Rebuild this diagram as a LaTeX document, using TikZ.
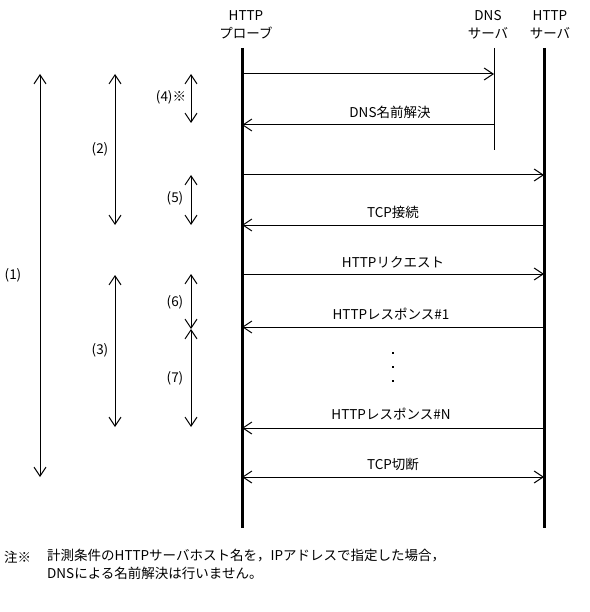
\documentclass[tikz,border=0pt]{standalone}
\usepackage{fontspec}
\setmainfont{Noto Sans CJK JP}
\usetikzlibrary{arrows.meta}

\begin{document}
\begin{tikzpicture}[x=1pt,y=-1pt,font=\fontsize{13.5}{18}\selectfont,
  life/.style={line width=3pt},
  thinlife/.style={line width=1pt},
  msg/.style={-{Straight Barb[length=9pt,width=12pt]},line width=1pt},
  span/.style={{Straight Barb[length=9pt,width=12pt]}-{Straight Barb[length=9pt,width=12pt]},line width=1pt},
  lbl/.style={inner sep=0pt,align=center}]
  \useasboundingbox (0,0) rectangle (589,612);
  % lifelines
  \node[lbl] (probe) at (246,25) {HTTP\\プローブ};
  \node[lbl] (dns) at (488,25) {DNS\\サーバ};
  \node[lbl] (http) at (550,25) {HTTP\\サーバ};
  \coordinate (pT) at (242,48); \coordinate (pB) at (242,528);
  \coordinate (dT) at (494,48); \coordinate (dB) at (494,150);
  \coordinate (sT) at (544,48); \coordinate (sB) at (544,528);
  \draw[life] (pT) -- (pB);
  \draw[thinlife] (dT) -- (dB);
  \draw[life] (sT) -- (sB);
  % message ends
  \foreach \n/\y in {1/74,2/125,3/175,4/225,5/274,6/327,7/428,8/477} {
    \coordinate (p\n) at (242,\y);
    \coordinate (s\n) at (544,\y);
  }
  \coordinate (d1) at (494,74); \coordinate (d2) at (494,125);
  \draw[msg] (p1) -- (d1);
  \draw[msg] (d2) -- (p2);
  \draw[msg] (p3) -- (s3);
  \draw[msg] (s4) -- (p4);
  \draw[msg] (p5) -- (s5);
  \draw[msg] (s6) -- (p6);
  \draw[msg] (s7) -- (p7);
  \draw[span] (p8) -- (s8);
  \node[lbl] (m2) at (390,112) {DNS名前解決};
  \node[lbl] (m4) at (393,212) {TCP接続};
  \node[lbl] (m5) at (393,262) {HTTPリクエスト};
  \node[lbl] (m6) at (391,314) {HTTPレスポンス\#1};
  \node[lbl] (m7) at (391,414) {HTTPレスポンス\#N};
  \node[lbl] (m8) at (393,464) {TCP切断};
  \foreach \y in {352,366,380} \fill (392,\y) rectangle +(2,2);
  % spans
  \coordinate (a1t) at (40,74);  \coordinate (a1b) at (40,477);
  \coordinate (a2t) at (115,74); \coordinate (a2b) at (115,225);
  \coordinate (a3t) at (115,275); \coordinate (a3b) at (115,427);
  \coordinate (a4t) at (191,74); \coordinate (a4b) at (191,123);
  \coordinate (a5t) at (191,175); \coordinate (a5b) at (191,225);
  \coordinate (a6t) at (191,274); \coordinate (a6b) at (191,329);
  \coordinate (a7t) at (191,329); \coordinate (a7b) at (191,427);
  \foreach \i in {1,...,7} \draw[span] (a\i t) -- (a\i b);
  \node[lbl] (n1) at (13,275) {(1)};
  \node[lbl] (n2) at (100,149) {(2)};
  \node[lbl] (n3) at (100,350) {(3)};
  \node[lbl] (n4) at (171,97) {(4)※};
  \node[lbl] (n5) at (175,198) {(5)};
  \node[lbl] (n6) at (175,302) {(6)};
  \node[lbl] (n7) at (175,378) {(7)};
  % note
  \node[lbl,anchor=west] (note) at (4,557) {注※};
  \node[lbl,anchor=north west,align=left] (notetext) at (47,549) {計測条件のHTTPサーバホスト名を，IPアドレスで指定した場合，\\DNSによる名前解決は行いません。};
\end{tikzpicture}
\end{document}
